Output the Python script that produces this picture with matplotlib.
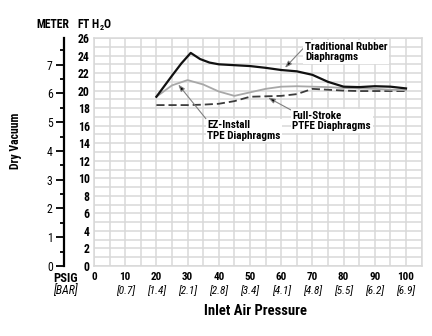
import matplotlib
matplotlib.use("Agg")
import matplotlib.pyplot as plt
import numpy as np

# data (ft of water vs psig)
rubber_x = [20, 25, 28, 31, 34, 37, 40, 45, 50, 55, 60, 65, 70, 75, 80, 85, 90, 95, 100]
rubber_y = [19.3, 21.7, 23.1, 24.3, 23.6, 23.2, 23.0, 22.9, 22.8, 22.6, 22.35, 22.2, 21.8, 21.0, 20.45, 20.4, 20.5, 20.45, 20.25]

tpe_x = [20, 25, 30, 35, 40, 45, 50, 55, 60, 65, 70, 75, 80, 85, 90, 95, 100]
tpe_y = [19.3, 20.6, 21.2, 20.7, 19.9, 19.4, 19.8, 20.2, 20.45, 20.5, 20.45, 20.4, 20.3, 20.25, 20.2, 20.1, 20.05]

ptfe_x = [20, 25, 30, 35, 40, 45, 50, 55, 60, 65, 70, 75, 80, 85, 90, 95, 100]
ptfe_y = [18.35, 18.35, 18.35, 18.4, 18.5, 18.8, 19.3, 19.35, 19.4, 19.6, 20.2, 20.1, 20.0, 19.95, 19.95, 19.95, 19.95]

psig_ticks = [0, 10, 20, 30, 40, 50, 60, 70, 80, 90, 100]
bar_labels = ["", "[0.7]", "[1.4]", "[2.1]", "[2.8]", "[3.4]", "[4.1]", "[4.8]", "[5.5]", "[6.2]", "[6.9]"]
ft_ticks = list(range(0, 27, 2))
meter_ticks = list(range(0, 8))

FT_PER_M = 3.2808

plt.rcParams["font.family"] = ["Roboto Condensed", "DejaVu Sans"]
plt.rcParams["mathtext.fontset"] = "custom"
plt.rcParams["mathtext.rm"] = "Roboto Condensed:bold"
plt.rcParams["mathtext.it"] = "Roboto Condensed:bold"

fig = plt.figure(figsize=(4.32, 3.36), dpi=100)
ax = fig.add_axes([94 / 432, 1 - 266 / 336, (421.6 - 94) / 432, 228 / 336])

grid_c = "#d8d8d8"
ax.set_xlim(0, 105)
ax.set_ylim(0, 26)
ax.set_xticks(psig_ticks)
ax.set_xticks(np.arange(0, 106, 5), minor=True)
ax.set_yticks(ft_ticks)
ax.set_yticks(range(0, 27), minor=True)
ax.grid(which="both", color=grid_c, lw=1.1)
ax.set_axisbelow(True)
for s in ax.spines.values():
    s.set_color(grid_c)
    s.set_linewidth(1.1)
ax.tick_params(which="both", length=0)
ax.tick_params(axis="y", pad=3, labelsize=8.5)
ax.tick_params(axis="x", pad=4, labelsize=8)
for lab in ax.get_xticklabels() + ax.get_yticklabels():
    lab.set_fontweight("bold")

ax.plot(ptfe_x, ptfe_y, color="#3c3c3c", lw=1.3, ls=(0, (4.5, 2.2)), zorder=3)
ax.plot(tpe_x, tpe_y, color="#a8a8a8", lw=1.3, zorder=4)
ax.plot(rubber_x, rubber_y, color="#111111", lw=1.6, zorder=5)

# bar labels under the psig ticks
for x, lab in zip(psig_ticks, bar_labels):
    ax.annotate(lab, xy=(x, 0), xycoords=("data", "axes fraction"), xytext=(0, -17.5),
                textcoords="offset points", ha="center", va="center",
                fontsize=8, style="italic")

# meter axis on the left
sec = ax.secondary_yaxis(-0.092, functions=(lambda f: f / FT_PER_M, lambda m: m * FT_PER_M))
sec.set_yticks(meter_ticks)
sec.set_yticks(np.arange(0, 8, 0.5), minor=True)
sec.spines["left"].set_linewidth(1.6)
sec.spines["left"].set_color("black")
sec.tick_params(which="major", direction="out", length=6, width=1.3, labelsize=8.5, pad=2)
sec.tick_params(which="minor", direction="out", length=3, width=1.3)

arrow = dict(arrowstyle="-|>,head_length=0.5,head_width=0.18", fc="black", ec="#808080", lw=0.8,
             shrinkA=0, shrinkB=0)
box = dict(boxstyle="square,pad=0.15", fc="white", ec="none")

a = dict(arrow, relpos=(0, 0.75))
ax.annotate("Traditional Rubber\nDiaphragms", xy=(61.2, 22.6), xytext=(67.6, 25.6),
            ha="left", va="top", fontsize=8, fontweight="bold", bbox=box, arrowprops=a,
            linespacing=1.05, zorder=6)
a = dict(arrow, relpos=(0, 1))
ax.annotate("EZ-Install\nTPE Diaphragms", xy=(27.0, 20.7), xytext=(36.3, 16.6),
            ha="left", va="top", fontsize=8, fontweight="bold", bbox=box, arrowprops=a,
            linespacing=1.05, zorder=6)
ax.annotate("Full-Stroke\nPTFE Diaphragms", xy=(55.8, 19.2), xytext=(63.6, 17.7),
            ha="left", va="top", fontsize=8, fontweight="bold", bbox=box, arrowprops=a,
            linespacing=1.05, zorder=6)

fig.text(53 / 432, 1 - 25 / 336, "METER", ha="center", va="center", fontsize=8.5, fontweight="bold")
fig.text(95 / 432, 1 - 25 / 336, r"$\mathrm{FT\ H_2O}$", ha="center", va="center", fontsize=8.5)
fig.text(15 / 432, 1 - 141 / 336, "Dry Vacuum", ha="center", va="center", rotation=90,
         fontsize=8.5, fontweight="bold")
fig.text(65 / 432, 1 - 278 / 336, "PSIG", ha="center", va="center", fontsize=9, fontweight="bold")
fig.text(65 / 432, 1 - 291 / 336, "[BAR]", ha="center", va="center", fontsize=8.5, style="italic")
fig.text(256 / 432, 1 - 311 / 336, "Inlet Air Pressure", ha="center", va="center",
         fontsize=10.5, fontweight="bold")

fig.savefig("out.png", dpi=100)
